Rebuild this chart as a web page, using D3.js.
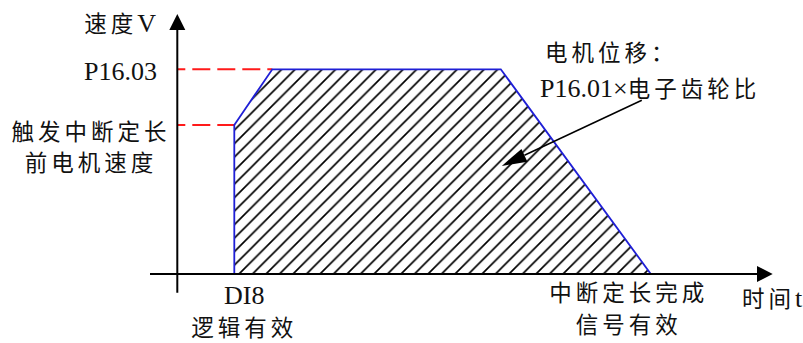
<!DOCTYPE html>
<html>
<head>
<meta charset="utf-8">
<script src="https://cdn.jsdelivr.net/npm/d3@7"></script>
<style>
  html, body { margin: 0; padding: 0; background: #fff; }
</style>
</head>
<body>
<div id="chart"></div>
<script>
// Layout
const width = 803;
const height = 343;
const LATIN = "'Liberation Serif', 'Times New Roman', serif";
const CJK = "'Noto Sans CJK SC', sans-serif";

// Data (time in arbitrary units, speed in % of P16.03)
const profileTime = [5.7, 5.7, 9.5, 32.35, 47.35];
const profileSpeed = [0, 72.8, 100, 100, 0];
const levelSpeed = [100, 72.8];               // P16.03, speed before trigger
const levelTime = [9.5, 5.7];                 // where the dashed guide meets the curve
const levelLabels = [["P16.03"], ["触发中断定长", "前电机速度"]];
const eventTime = [5.7, 47.35];
const eventLabels = [["DI8", "逻辑有效"], ["中断定长完成", "信号有效"]];
const axisTitles = ["速度V", "时间t"];
const noteLines = ["电机位移：", "P16.01×电子齿轮比"];
const noteFrom = [46.45, 84.9];               // [time, speed] of arrow tail
const noteTo = [32.45, 52.8];                 // [time, speed] of arrow head

// Scales
const x = d3.scaleLinear().domain([0, 60]).range([177.3, 777.3]);
const y = d3.scaleLinear().domain([0, 100]).range([274, 69.3]);

const svg = d3.select("#chart").append("svg")
  .attr("width", width)
  .attr("height", height)
  .attr("viewBox", [0, 0, width, height]);

// hatch pattern, 45deg lines
const hs = 13.5;
svg.append("defs").append("pattern")
    .attr("id", "hatch")
    .attr("patternUnits", "userSpaceOnUse")
    .attr("width", hs)
    .attr("height", hs)
  .append("path")
    .attr("d", `M0,${hs} L${hs},0 M-2,2 L2,-2 M${hs - 2},${hs + 2} L${hs + 2},${hs - 2}`)
    .attr("stroke", "#000")
    .attr("stroke-width", 1.7);

const pts = profileTime.map((t, i) => [x(t), y(profileSpeed[i])]);

svg.append("path")
  .attr("d", d3.line()(pts) + "Z")
  .attr("fill", "url(#hatch)");

// red dashed guides
svg.append("g").selectAll("line").data(levelSpeed).join("line")
  .attr("x1", x(0))
  .attr("x2", (d, i) => x(levelTime[i]))
  .attr("y1", d => y(d))
  .attr("y2", d => y(d))
  .attr("stroke", "#ff1a1a")
  .attr("stroke-width", 2)
  .attr("stroke-dasharray", "18,7")
  .attr("stroke-dashoffset", 10);

// blue outline
svg.append("path")
  .attr("d", d3.line()(pts))
  .attr("fill", "none")
  .attr("stroke", "#1f1fd6")
  .attr("stroke-width", 1.8);

// axes
const axisG = svg.append("g");
axisG.append("line")
  .attr("x1", 150).attr("x2", 760)
  .attr("y1", y(0)).attr("y2", y(0))
  .attr("stroke", "#000").attr("stroke-width", 2);
axisG.append("path")
  .attr("d", `M772.7,${y(0)} L757,${y(0) - 8} L757,${y(0) + 8}Z`)
  .attr("fill", "#000");
axisG.append("line")
  .attr("x1", x(0)).attr("x2", x(0))
  .attr("y1", 292.7).attr("y2", 28)
  .attr("stroke", "#000").attr("stroke-width", 2);
axisG.append("path")
  .attr("d", `M${x(0)},14 L${x(0) - 8},30 L${x(0) + 8},30Z`)
  .attr("fill", "#000");

// annotation arrow
const [ax0, ay0] = [x(noteFrom[0]), y(noteFrom[1])];
const [ax1, ay1] = [x(noteTo[0]), y(noteTo[1])];
const ang = Math.atan2(ay1 - ay0, ax1 - ax0);
const headLen = 25, headW = 7;
const bx = ax1 - headLen * Math.cos(ang), by = ay1 - headLen * Math.sin(ang);
svg.append("line")
  .attr("x1", ax0).attr("y1", ay0)
  .attr("x2", bx).attr("y2", by)
  .attr("stroke", "#000").attr("stroke-width", 1.5);
svg.append("path")
  .attr("d", `M${ax1},${ay1} L${bx + headW * Math.sin(ang)},${by - headW * Math.cos(ang)} L${bx - headW * Math.sin(ang)},${by + headW * Math.cos(ang)}Z`)
  .attr("fill", "#000");

// Text helper: CJK runs get a bit of letter spacing to mimic the Song font widths
const cjkRe = /[\u3000-\u9fff\uff00-\uffef]/;
function addText(str, px, py, anchor) {
  const t = svg.append("text")
    .attr("x", px)
    .attr("y", py)
    .attr("text-anchor", anchor)
    .attr("fill", "#111");
  const runs = str.match(/[\u3000-\u9fff\uff00-\uffef]+|[^\u3000-\u9fff\uff00-\uffef]+/g);
  runs.forEach(r => {
    const cjk = cjkRe.test(r);
    t.append("tspan")
      .text(r)
      .attr("font-family", cjk ? CJK : LATIN)
      .attr("font-size", cjk ? 22.5 : 26)
      .attr("letter-spacing", cjk ? 4 : 0);
  });
  return t;
}

// axis titles
addText(axisTitles[0], 156, 31.5, "end");
addText(axisTitles[1], 742, 307, "start");

// level labels
addText(levelLabels[0][0], 157, 80, "end");
levelLabels[1].forEach((s, i) => addText(s, 91, y(levelSpeed[1]) + 15 + i * 31, "middle"));

// event labels under the time axis
eventLabels[0].forEach((s, i) => addText(s, x(eventTime[0]) + 10, i === 0 ? 304 : 336, "middle"));
eventLabels[1].forEach((s, i) => addText(s, x(eventTime[1]) - 22, i === 0 ? 301 : 333, "middle"));

// note
addText(noteLines[0], 545, 61, "start");
addText(noteLines[1], 540, 97, "start");
</script>
</body>
</html>
